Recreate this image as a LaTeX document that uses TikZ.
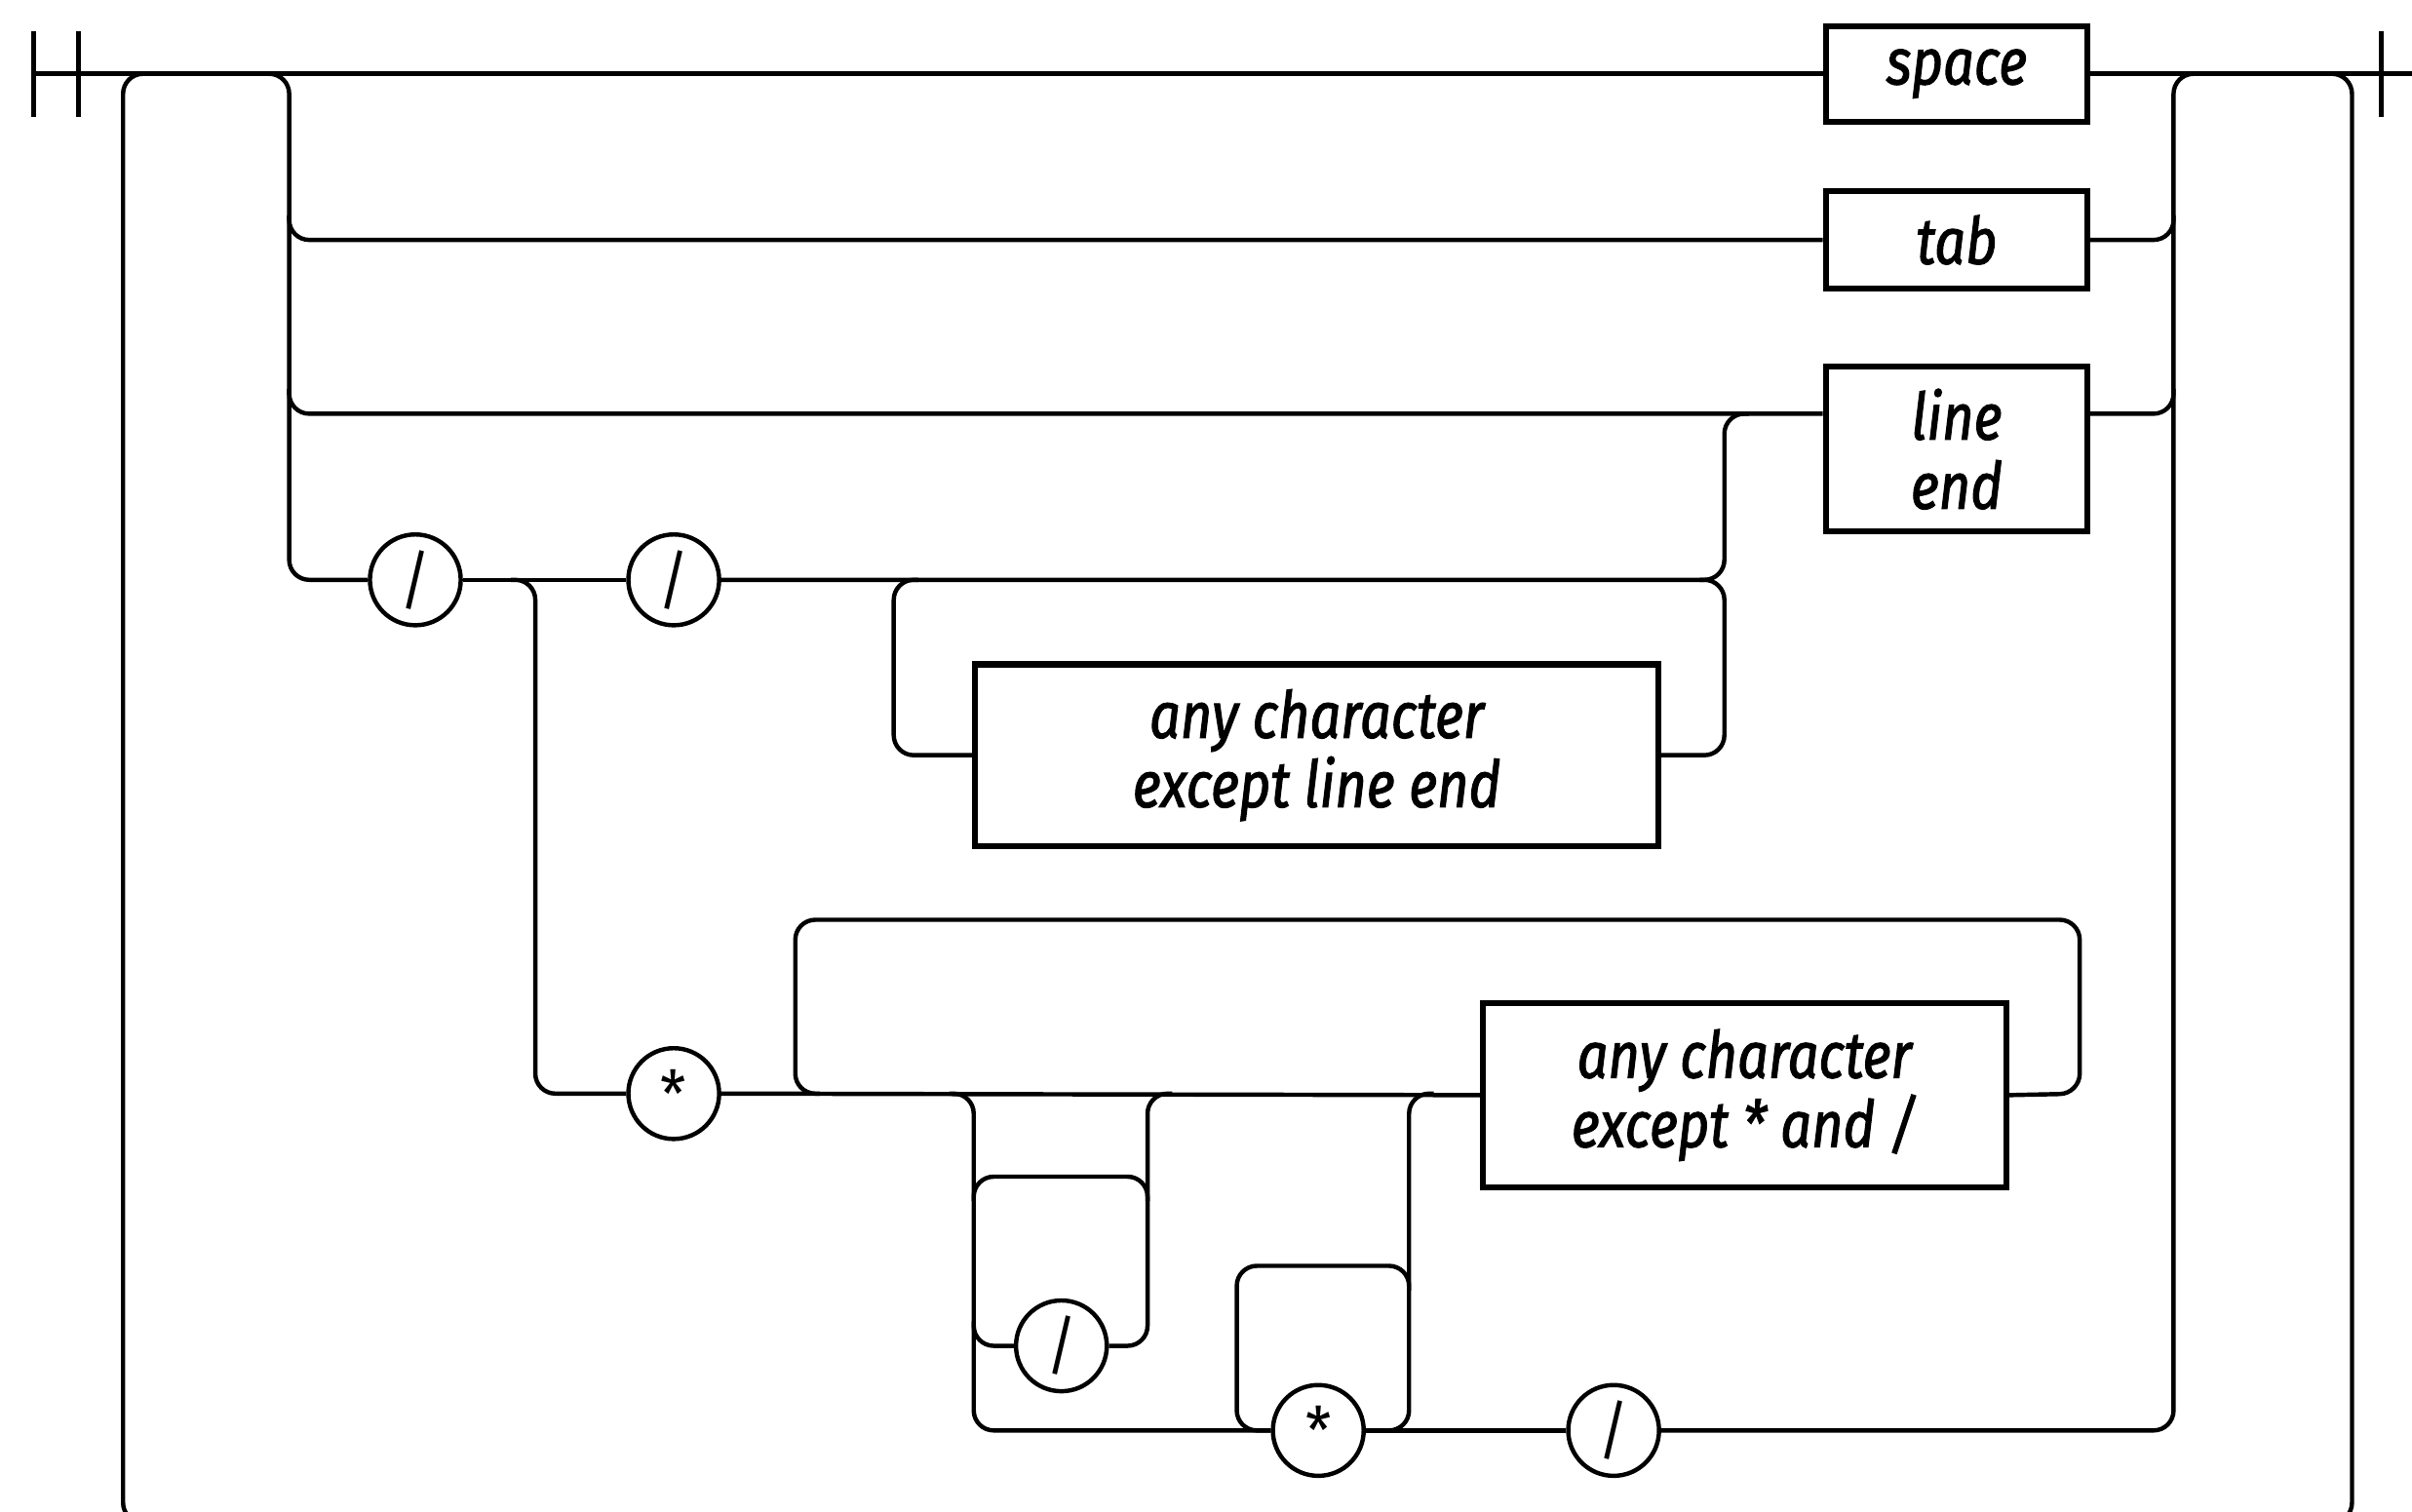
\documentclass[tikz,border=0pt]{standalone}
\usepackage{fontspec}
\newfontfamily\lblfont{Fira Sans}[FakeStretch=0.84,FakeBold=1.6]
\newfontfamily\termfont{Fira Sans}[FakeStretch=0.9]
\begin{document}
\begin{tikzpicture}[x=0.01cm,y=-0.01cm,line width=0.8pt,
  rr/.style={rounded corners=0.13cm},
  box/.style={draw,line width=1.1pt,inner sep=0pt,align=center,
    font=\lblfont\itshape\fontsize{12}{12.8}\selectfont},
  term/.style={draw,circle,line width=0.8pt,minimum size=0.59cm,inner sep=0pt,
    font=\termfont\fontsize{12}{12}\selectfont},
  bar/.style={line width=0.9pt}]
\useasboundingbox (0,0) rectangle (1568,983);
\clip (0,0) rectangle (1568,983);

% ---------- nodes ----------
\node[box,minimum width=1.70cm,minimum height=0.62cm] (space) at (1272,48) {space};
\node[box,minimum width=1.70cm,minimum height=0.63cm] (tab) at (1272,156) {tab};
\node[box,minimum width=1.70cm,minimum height=1.07cm] (lineend) at (1272,292) {line\\end};
\node[box,minimum width=4.44cm,minimum height=1.18cm] (any1) at (856,491) {any character\\except line end};
\node[box,minimum width=3.40cm,minimum height=1.20cm] (any2) at (1134,712) {any character\\except * and /};

\node[term] (c1) at (270,377) {/};
\node[term] (c2) at (438,377) {/};
\node[term] (c3) at (438,711) {*};
\node[term] (c4) at (690,875) {/};
\node[term] (c5) at (857,930) {*};
\node[term] (c6) at (1049,930) {/};

% ---------- named coordinates ----------
\coordinate (b1t) at (22,20);  \coordinate (b1b) at (22,76);
\coordinate (b2t) at (51,20);  \coordinate (b2b) at (51,76);
\coordinate (b3t) at (1548,20); \coordinate (b3b) at (1548,76);
\coordinate (mstart) at (22,48);
\coordinate (mend) at (1568,48);
\coordinate (rowE) at (0,269);

% ---------- start / end ----------
\draw[bar] (b1t) -- (b1b);
\draw[bar] (b2t) -- (b2b);
\draw[bar] (b3t) -- (b3b);
\draw (mstart) -- (space.west);
\draw (space.east) -- (mend);

% ---------- outer loop ----------
\draw[rr] (96,48) -- (80,48) -- (80,990) -- (1529,990) -- (1529,48) -- (1513,48);

% ---------- left branch and alternatives ----------
\draw[rr] (172,48) -- (188,48) -- (188,377) -- (c1.west);
\draw[rr] (188,140) -- (188,156) -- (tab.west);
\draw[rr] (188,253) -- (188,269) -- (lineend.west |- rowE);

% ---------- right merge ----------
\draw[rr] (tab.east) -- (1413,156) -- (1413,140);
\draw[rr] (lineend.east |- rowE) -- (1413,269) -- (1413,253);
\draw[rr] (c6.east) -- (1413,930) -- (1413,48) -- (1429,48);

% ---------- // comment ----------
\draw (c1.east) -- (c2.west);
\draw[rr] (c2.east) -- (1121,377) -- (1121,269) -- (1137,269);
\draw[rr] (597,377) -- (581,377) -- (581,491) -- (any1.west);
\draw[rr] (any1.east) -- (1121,491) -- (1121,377) -- (1105,377);

% ---------- /* comment ----------
\draw[rr] (332,377) -- (348,377) -- (348,711) -- (c3.west);
\draw (c3.east) -- (any2.west);
\draw[rr] (any2.east) -- (1352,711) -- (1352,598) -- (517,598) -- (517,711) -- (533,711);

\draw[rr] (617,711) -- (633,711) -- (633,930) -- (c5.west);
\draw[rr] (762,711) -- (746,711) -- (746,875) -- (c4.east);
\draw[rr] (633,781) -- (633,765) -- (746,765) -- (746,781);
\draw[rr] (633,859) -- (633,875) -- (c4.west);

\draw[rr] (932,711) -- (916,711) -- (916,930) -- (c5.east);
\draw[rr] (916,839) -- (916,823) -- (804,823) -- (804,930) -- (c5.west);
\draw (c5.east) -- (c6.west);
\end{tikzpicture}
\end{document}
